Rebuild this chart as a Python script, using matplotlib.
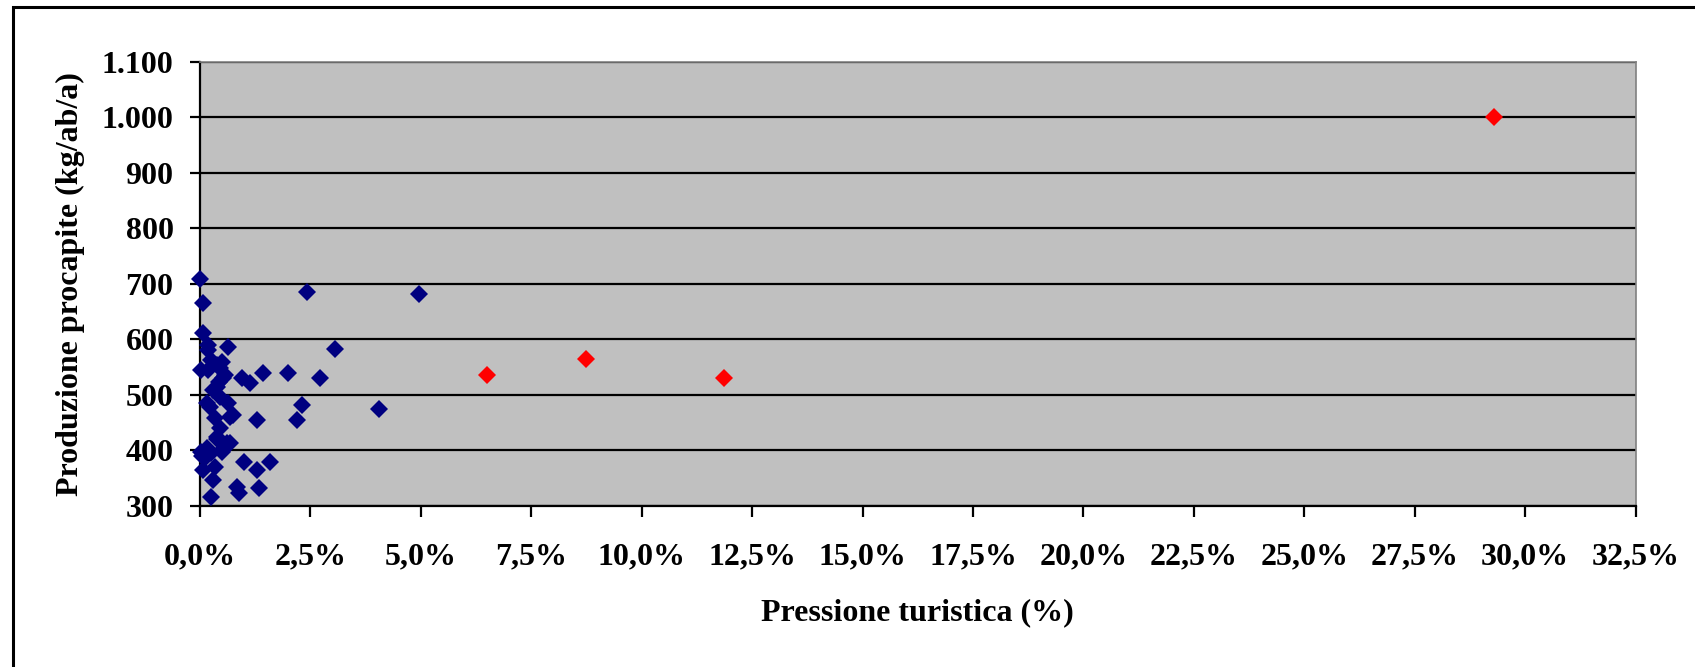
import matplotlib
matplotlib.use("Agg")
import matplotlib.pyplot as plt
from matplotlib.ticker import FuncFormatter
from matplotlib.patches import Rectangle

# Tourist pressure (%) and per-capita waste production (kg/inhabitant/year)
pressione_blu = [
    0.00, 0.06, 0.06, 0.17, 0.64, 2.42, 4.96, 3.06, 0.19, 0.26,
    0.38, 0.49, 0.45, 0.02, 0.19, 0.57, 0.53, 0.44, 0.38, 0.30,
    0.45, 0.94, 1.13, 1.42, 2.00, 2.72, 0.15, 0.64, 0.23, 0.75,
    0.34, 0.68, 1.30, 2.30, 2.19, 4.06, 0.45, 0.39, 0.38, 0.60,
    0.68, 0.51, 0.15, 0.02, 0.11, 0.04, 0.26, 0.49, 0.34, 0.06,
    0.29, 0.24, 0.99, 1.30, 1.58, 0.83, 0.89, 1.34,
]
produzione_blu = [
    709, 666, 611, 590, 587, 686, 681, 582, 581, 563,
    554, 560, 548, 545, 545, 536, 530, 524, 515, 509,
    497, 531, 521, 540, 540, 530, 485, 485, 479, 464,
    458, 460, 455, 481, 455, 474, 440, 425, 420, 413,
    414, 402, 404, 398, 386, 390, 395, 398, 371, 365,
    347, 317, 380, 365, 380, 335, 323, 332,
]

pressione_rossi = [6.50, 8.74, 11.87, 29.3]
produzione_rossi = [535, 564, 530, 1000]

x_ticks = [i * 2.5 for i in range(14)]
y_ticks = list(range(300, 1101, 100))

W, H = 1695, 667
fig = plt.figure(figsize=(W / 100, H / 100), dpi=100)
fig.patch.set_facecolor("white")

font = "Liberation Serif"
fsize = 23
left, right, top, bottom = 200, 1635.6, 61.7, 506
ax = fig.add_axes([left / W, 1 - bottom / H, (right - left) / W, (bottom - top) / H])
ax.set_facecolor("#C0C0C0")

ax.plot(pressione_blu, produzione_blu, linestyle="none", marker="D",
        markersize=9.3, markerfacecolor="#000080", markeredgewidth=0,
        zorder=3, clip_on=False)
ax.plot(pressione_rossi, produzione_rossi, linestyle="none", marker="D",
        markersize=9.3, markerfacecolor="#FF0000", markeredgewidth=0,
        zorder=3, clip_on=False)

ax.set_xlim(0, 32.5)
ax.set_ylim(300, 1100)
ax.set_xticks(x_ticks)
ax.set_yticks(y_ticks)

ax.xaxis.set_major_formatter(FuncFormatter(lambda v, p: f"{v:.1f}%".replace(".", ",")))
ax.yaxis.set_major_formatter(FuncFormatter(lambda v, p: f"{int(v):,}".replace(",", ".")))

ax.yaxis.grid(True, color="black", linewidth=1.6, zorder=1)
ax.set_axisbelow(True)

for side in ("left", "bottom"):
    ax.spines[side].set_color("black")
    ax.spines[side].set_linewidth(1.6)
for side in ("top", "right"):
    ax.spines[side].set_color("#808080")
    ax.spines[side].set_linewidth(1.2)

ax.tick_params(axis="y", direction="out", length=7, width=1.6, pad=12)
ax.tick_params(axis="x", direction="out", length=8, width=1.6, pad=18)
for lab in ax.get_xticklabels() + ax.get_yticklabels():
    lab.set_fontfamily(font)
    lab.set_fontweight("bold")
    lab.set_fontsize(fsize)

fig.text(917 / W, 1 - 613 / H, "Pressione turistica (%)", ha="center", va="center",
         fontfamily=font, fontweight="bold", fontsize=fsize)
fig.text(70 / W, 1 - 284 / H, "Produzione procapite (kg/ab/a)", ha="center", va="center",
         rotation=90, fontfamily=font, fontweight="bold", fontsize=fsize)

# Outer chart frame
fig.patches.append(Rectangle((13.4 / W, -0.2), 1.2, 1.2 - 7.3 / H,
                             transform=fig.transFigure, fill=False,
                             edgecolor="black", linewidth=2.2, clip_on=False))

fig.savefig("out.png", dpi=100)
